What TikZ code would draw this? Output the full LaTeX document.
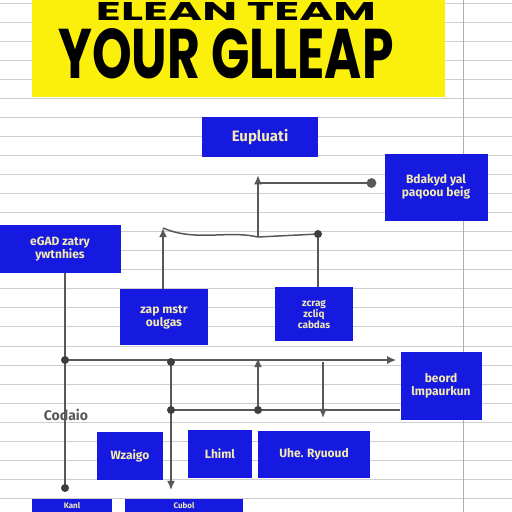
\documentclass[tikz,border=0pt]{standalone}
\usepackage{fontspec}
\setmainfont{Fira Sans}
\newfontfamily\titlefont{Poppins}
\usetikzlibrary{arrows.meta,positioning}
\definecolor{cardblue}{RGB}{22,26,224}
\definecolor{cardtext}{RGB}{242,234,178}
\definecolor{wiregray}{RGB}{88,88,88}
\definecolor{rulegray}{RGB}{206,206,206}
\definecolor{marker}{RGB}{250,240,12}

\begin{document}
\begin{tikzpicture}[x=1pt, y=-1pt,
    every node/.style={font=\bfseries},
    card/.style={fill=cardblue, inner sep=2pt, align=center, text=cardtext, font=\bfseries\fontsize{12}{13}\selectfont},
    wire/.style={draw=wiregray, line width=1.5pt},
    flow/.style={wire, -{Latex[length=3.2mm, width=2.8mm]}},
    blob/.style={wire, -{Circle[length=3.4mm]}},
    joint/.style={circle, fill=wiregray!70!black, inner sep=0pt, minimum size=8pt}
]
\useasboundingbox (0,0) rectangle (512,512);
\clip (0,0) rectangle (512,512);
\fill[white] (0,0) rectangle (512,512);
\foreach \k in {0,...,26}
  \draw[rulegray, line width=0.8pt] (0,3+19.05*\k) -- (512,3+19.05*\k);
\draw[rulegray!85!black, line width=0.8pt] (463,0) -- (463,512);

\fill[marker] (32,-5) rectangle (445,97);
\node[anchor=south, inner sep=0pt] (headA) at (236,21) {\resizebox{280pt}{18pt}{\titlefont\bfseries ELEAN TEAM}};
\node[anchor=south, inner sep=0pt] (headB) at (226,79) {\resizebox{335pt}{50pt}{\titlefont\bfseries YOUR GLLEAP}};

\node[card, minimum width=116pt, minimum height=40pt, font=\bfseries\fontsize{15}{16}\selectfont] (goal) at (260,137) {Eupluati};
\node[card, minimum width=103pt, minimum height=67pt] (task) at (436,187) {Bdakyd yal\\ paqoou beig};
\node[card, minimum width=122pt, minimum height=48pt] (lead) at (60,249) {eGAD zatry\\ ywtnhies};
\node[card, minimum width=88pt, minimum height=56pt] (plan) at (164,317) {zap mstr\\ oulgas};
\node[card, minimum width=78pt, minimum height=54pt, font=\bfseries\fontsize{10}{11}\selectfont] (role) at (314,314) {zcrag\\ zcliq\\ cabdas};
\node[card, minimum width=81pt, minimum height=68pt] (sync) at (441,386) {beord\\ lmpaurkun};
\node[card, minimum width=66pt, minimum height=48pt] (west) at (130,456) {Wzaigo};
\node[card, minimum width=64pt, minimum height=48pt] (hold) at (220,454) {Lhiml};
\node[card, minimum width=112pt, minimum height=47pt] (team) at (314,454) {Uhe. Ryuoud};
\node[card, minimum width=80pt, minimum height=13pt, inner sep=1pt, anchor=north, font=\bfseries\fontsize{8}{9}\selectfont] (kanl) at (72,499) {Kanl};
\node[card, minimum width=118pt, minimum height=13pt, inner sep=1pt, anchor=north, font=\bfseries\fontsize{8}{9}\selectfont] (cubol) at (184,499) {Cubol};
\node[text=wiregray, font=\bfseries\fontsize{14}{15}\selectfont] (tag) at (66,415) {Codaio};

\coordinate (hubA) at (258,183);
\coordinate (hubB) at (258,237);
\coordinate (bendD) at (163,228);
\coordinate (bendE) at (318,234);
\coordinate (hubC) at (65,360);
\coordinate (footC) at (65,488);
\coordinate (hubM) at (171,362);
\coordinate (midM) at (171,410);
\coordinate (footM) at (171,490);
\coordinate (hubR) at (258,362);
\coordinate (midR) at (258,410);
\coordinate (hubS) at (323,362);
\coordinate (footS) at (323,418);

\draw[flow, shorten >=18pt] (hubB) -- (hubB |- goal.south);
\draw[blob, shorten >=8pt] (hubA) -- (task.west |- hubA);
\draw[wire] (bendD) .. controls (195,242) and (228,230) .. (hubB) -- (bendE);
\draw[flow] (plan.north -| bendD) -- (bendD);
\draw[wire] (role.north -| bendE) -- (bendE);
\node[joint] at (bendE) {};

\draw[wire] (lead.south -| hubC) -- (footC);
\draw[flow, shorten >=4pt] (hubC) -- (sync.west |- hubC);
\draw[flow] (hubM) -- (footM);
\draw[wire] (midM) -- (sync.west |- midM);
\draw[flow] (midR) -- ([yshift=4pt]hubR);
\draw[flow] (hubS) -- (footS);
\draw[wire] (hubR) -- (midR);
\foreach \j in {hubC, footC, hubM, midM, midR}
  \node[joint] at (\j) {};
\end{tikzpicture}
\end{document}
